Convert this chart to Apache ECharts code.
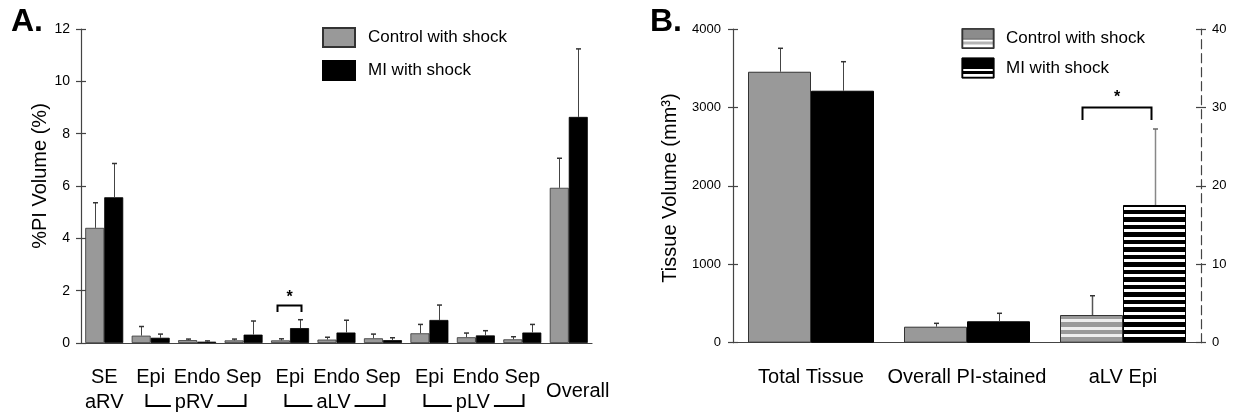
<!DOCTYPE html>
<html><head><meta charset="utf-8">
<script src="https://cdn.jsdelivr.net/npm/echarts@6/dist/echarts.min.js"></script>
<style>html,body{margin:0;padding:0;background:#fff}#c{width:1242px;height:417px}</style>
</head><body><div id="c"></div>
<script>
// ---------- Panel A data ----------
const categoriesA = ['SE aRV','pRV Epi','pRV Endo','pRV Sep','aLV Epi','aLV Endo','aLV Sep','pLV Epi','pLV Endo','pLV Sep','Overall'];
const tickLabelsA = ['SE\naRV','Epi','Endo','Sep','Epi','Endo','Sep','Epi','Endo','Sep','Overall'];
const regionLabelsA = ['pRV','aLV','pLV'];
const regionSpansA = [[1,3],[4,6],[7,9]];
const controlA    = [4.40, 0.28, 0.11, 0.10, 0.10, 0.13, 0.18, 0.37, 0.22, 0.14, 5.93];
const controlAErr = [0.96, 0.35, 0.04, 0.05, 0.06, 0.09, 0.16, 0.34, 0.16, 0.10, 1.13];
const miA         = [5.57, 0.20, 0.05, 0.32, 0.57, 0.40, 0.11, 0.88, 0.29, 0.40, 8.64];
const miAErr      = [1.29, 0.14, 0.03, 0.52, 0.32, 0.47, 0.09, 0.57, 0.18, 0.31, 2.60];
const yAxisA = {min: 0, max: 12, interval: 2};
const sigA = {cat: 4, low: 1.18, high: 1.45, star: 1.72};

// ---------- Panel B data ----------
const categoriesB = ['Total Tissue','Overall PI-stained','aLV Epi'];
const controlB         = [3455, 204, null];
const controlBErr      = [299, 43, null];
const miB              = [3213, 273, null];
const miBErr           = [370, 102, null];
const controlBRight    = [null, null, 3.53];
const controlBRightErr = [null, null, 2.46];
const miBRight         = [null, null, 17.56];
const miBRightErr      = [null, null, 9.69];
const yAxisBLeft  = {min: 0, max: 4000, interval: 1000};
const yAxisBRight = {min: 0, max: 40, interval: 10};
const sigB = {cat: 2, low: 28.4, high: 30.0, star: 31.3};

const seriesNames = ['Control with shock', 'MI with shock'];

// ---------- styles ----------
const FONT = '"Liberation Sans", Arial, sans-serif';
const GRAY = '#999999';
const BORDER = '#333333';
const BW_A = 19, BW_B = 63;

function stripe(rows){
  const total = rows.reduce((s, r) => s + r[1], 0);
  const cv = document.createElement('canvas'); cv.width = 4; cv.height = total;
  const ctx = cv.getContext('2d'); let y = 0;
  rows.forEach(([c, h]) => { ctx.fillStyle = c; ctx.fillRect(0, y, 4, h); y += h; });
  return cv;
}
const blackStripe = stripe([['#000',4],['#fff',3],['#000',5],['#fff',3]]);
const grayStripe  = stripe([['#9a9a9a',4],['#eeeeee',3],['#9a9a9a',5],['#eeeeee',3]]);

function errorSeries(xi, yi, vals, errs, side, halfW, color, capColor, lw){
  const data = [];
  vals.forEach((v, i) => { if (v != null) data.push([i, v, v + errs[i]]); });
  return {
    type: 'custom', xAxisIndex: xi, yAxisIndex: yi, silent: true, z: 5,
    encode: {x: 0, y: 1},
    data: data,
    renderItem: (params, api) => {
      const c = api.value(0), v = api.value(1), t = api.value(2);
      const p0 = api.coord([c, v]), p1 = api.coord([c, t]);
      const x = Math.round(p0[0] + side * halfW) + 0.5;
      return {type: 'group', children: [
        {type: 'line', shape: {x1: x, y1: p0[1], x2: x, y2: p1[1]}, style: {stroke: color, lineWidth: lw}},
        {type: 'line', shape: {x1: x - 2.5, y1: p1[1], x2: x + 2.5, y2: p1[1]}, style: {stroke: capColor, lineWidth: 1.5}}
      ]};
    }
  };
}

const axisLineStyle = {color: '#444', width: 1.2};
const plain = v => String(v);

const chart = echarts.init(document.getElementById('c'), null, {renderer: 'canvas'});
const option = {
  animation: false,
  backgroundColor: '#fff',
  textStyle: {fontFamily: FONT, color: '#000'},
  grid: [
    {left: 81, right: 650, top: 29, bottom: 73.3},
    {left: 733, right: 41, top: 29, bottom: 74.3}
  ],
  legend: {
    data: seriesNames, orient: 'vertical', left: 322, top: 27, padding: 0, icon: 'rect',
    itemWidth: 32, itemHeight: 19, itemGap: 12, selectedMode: false,
    textStyle: {fontSize: 17, fontFamily: FONT, color: '#000', padding: [0, 0, 0, 8]}
  },
  xAxis: [
    {type: 'category', gridIndex: 0, data: categoriesA,
     axisLine: {lineStyle: axisLineStyle}, axisTick: {show: false},
     axisLabel: {interval: 0, margin: 22, fontSize: 20, lineHeight: 25, color: '#000', fontFamily: FONT,
       formatter: (v, i) => i === 10 ? '{ov|' + tickLabelsA[i] + '}' : tickLabelsA[i],
       rich: {ov: {fontSize: 20, lineHeight: 52, padding: [0, 0, 0, 18], fontFamily: FONT, color: '#000'}}}},
    {type: 'category', gridIndex: 1, data: categoriesB,
     axisLine: {lineStyle: axisLineStyle}, axisTick: {show: false},
     axisLabel: {interval: 0, margin: 22, fontSize: 20, lineHeight: 25, color: '#000', fontFamily: FONT}},
    {type: 'category', gridIndex: 1, data: categoriesB, show: false}
  ],
  yAxis: [
    {type: 'value', gridIndex: 0, position: 'left', min: yAxisA.min, max: yAxisA.max, interval: yAxisA.interval,
     axisLine: {show: true, lineStyle: axisLineStyle}, axisTick: {show: true, length: 5, lineStyle: axisLineStyle},
     splitLine: {show: false}, axisLabel: {margin: 11, fontSize: 14, color: '#000', fontFamily: FONT, formatter: plain}},
    {type: 'value', gridIndex: 0, position: 'left', min: yAxisA.min, max: yAxisA.max, interval: yAxisA.interval,
     axisLine: {show: false}, axisTick: {show: true, inside: true, length: 5, lineStyle: axisLineStyle},
     splitLine: {show: false}, axisLabel: {show: false}},
    {type: 'value', gridIndex: 1, position: 'left', min: yAxisBLeft.min, max: yAxisBLeft.max, interval: yAxisBLeft.interval,
     axisLine: {show: true, lineStyle: axisLineStyle}, axisTick: {show: true, length: 5, lineStyle: axisLineStyle},
     splitLine: {show: false}, axisLabel: {margin: 12, fontSize: 13, color: '#000', fontFamily: FONT, formatter: plain}},
    {type: 'value', gridIndex: 1, position: 'left', min: yAxisBLeft.min, max: yAxisBLeft.max, interval: yAxisBLeft.interval,
     axisLine: {show: false}, axisTick: {show: true, inside: true, length: 5, lineStyle: axisLineStyle},
     splitLine: {show: false}, axisLabel: {show: false}},
    {type: 'value', gridIndex: 1, position: 'right', min: yAxisBRight.min, max: yAxisBRight.max, interval: yAxisBRight.interval,
     axisLine: {show: true, lineStyle: {color: '#444', width: 1.2, type: [9, 5]}},
     axisTick: {show: true, length: 5, lineStyle: axisLineStyle},
     splitLine: {show: false}, axisLabel: {margin: 11, fontSize: 13, color: '#000', fontFamily: FONT, formatter: plain}},
    {type: 'value', gridIndex: 1, position: 'right', min: yAxisBRight.min, max: yAxisBRight.max, interval: yAxisBRight.interval,
     axisLine: {show: false}, axisTick: {show: true, inside: true, length: 5, lineStyle: axisLineStyle},
     splitLine: {show: false}, axisLabel: {show: false}}
  ],
  series: [
    {name: seriesNames[0], type: 'bar', xAxisIndex: 0, yAxisIndex: 0, data: controlA, barWidth: BW_A, barGap: '0%',
     itemStyle: {color: GRAY, borderColor: BORDER, borderWidth: 0.8}},
    {name: seriesNames[1], type: 'bar', xAxisIndex: 0, yAxisIndex: 0, data: miA, barWidth: BW_A, barGap: '0%',
     itemStyle: {color: '#000', borderColor: '#000', borderWidth: 0.8}},
    errorSeries(0, 0, controlA, controlAErr, -1, BW_A / 2, '#444', '#333', 1),
    errorSeries(0, 0, miA, miAErr, 1, BW_A / 2, '#444', '#333', 1),

    {name: 'B ' + seriesNames[0], type: 'bar', xAxisIndex: 1, yAxisIndex: 2, data: controlB, barWidth: BW_B, barGap: '0%',
     itemStyle: {color: GRAY, borderColor: BORDER, borderWidth: 1}},
    {name: 'B ' + seriesNames[1], type: 'bar', xAxisIndex: 1, yAxisIndex: 2, data: miB, barWidth: BW_B, barGap: '0%',
     itemStyle: {color: '#000', borderColor: '#000', borderWidth: 1}},
    errorSeries(1, 2, controlB, controlBErr, -1, BW_B / 2, '#444', '#333', 1),
    errorSeries(1, 2, miB, miBErr, 1, BW_B / 2, '#444', '#333', 1),

    {name: 'B right ' + seriesNames[0], type: 'bar', xAxisIndex: 2, yAxisIndex: 4, data: controlBRight, barWidth: BW_B, barGap: '0%',
     itemStyle: {color: {image: grayStripe, repeat: 'repeat'}, borderColor: BORDER, borderWidth: 1}},
    {name: 'B right ' + seriesNames[1], type: 'bar', xAxisIndex: 2, yAxisIndex: 4, data: miBRight, barWidth: BW_B, barGap: '0%',
     itemStyle: {color: {image: blackStripe, repeat: 'repeat'}, borderColor: '#000', borderWidth: 1}},
    errorSeries(2, 4, controlBRight, controlBRightErr, -1, BW_B / 2, '#555', '#333', 1.5),
    errorSeries(2, 4, miBRight, miBRightErr, 1, BW_B / 2, '#888', '#666', 1.5)
  ]
};
chart.setOption(option);

// ---------- annotations positioned through the axes ----------
function xPix(xi, cat){ return chart.convertToPixel({xAxisIndex: xi}, cat); }
function yPix(yi, v){ return chart.convertToPixel({yAxisIndex: yi}, v); }
const g = [];
const textStyleBase = {fontFamily: FONT, fill: '#000'};
// Panel letters
g.push({type: 'text', x: 11, y: 22, style: Object.assign({}, textStyleBase, {text: 'A.', fontSize: 32, fontWeight: 'bold', verticalAlign: 'middle'})});
g.push({type: 'text', x: 650, y: 22, style: Object.assign({}, textStyleBase, {text: 'B.', fontSize: 32, fontWeight: 'bold', verticalAlign: 'middle'})});
// Y titles
g.push({type: 'text', x: 40, y: 176, rotation: Math.PI / 2, style: Object.assign({}, textStyleBase, {text: '%PI Volume (%)', fontSize: 20, align: 'center', verticalAlign: 'middle'})});
g.push({type: 'text', x: 670, y: 188, rotation: Math.PI / 2, style: Object.assign({}, textStyleBase, {text: 'Tissue Volume (mm³)', fontSize: 20, align: 'center', verticalAlign: 'middle'})});

// Region brackets under axis A
const axisYA = yPix(0, 0);
regionSpansA.forEach((span, k) => {
  const xl = Math.round(xPix(0, span[0]) - 5) + 0.5;
  const xr = Math.round(xPix(0, span[1]) + 1) + 0.5;
  const yt = axisYA + 51, yb = axisYA + 63;
  g.push({type: 'polyline', z: 10, shape: {points: [[xl, yt], [xl, yb], [xr, yb], [xr, yt]]}, style: {stroke: '#000', lineWidth: 2, fill: null}});
  const xm = xPix(0, (span[0] + span[1]) / 2) - 3;
  g.push({type: 'text', z: 11, x: xm, y: axisYA + 59.5, style: Object.assign({}, textStyleBase, {text: regionLabelsA[k], fontSize: 20, align: 'center', verticalAlign: 'middle', backgroundColor: '#fff', padding: [0, 4, 0, 4]})});
});
// Significance bracket A
(function(){
  const c = xPix(0, sigA.cat);
  const xl = Math.round(c - BW_A / 2 - 4) + 0.5, xr = Math.round(c + BW_A / 2 + 1.5) + 0.5;
  const yl = yPix(0, sigA.low), yh = Math.round(yPix(0, sigA.high)) + 0.5;
  g.push({type: 'polyline', z: 10, shape: {points: [[xl, yl], [xl, yh], [xr, yh], [xr, yl]]}, style: {stroke: '#000', lineWidth: 2, fill: null}});
  g.push({type: 'text', z: 10, x: (xl + xr) / 2, y: yPix(0, sigA.star), style: Object.assign({}, textStyleBase, {text: '*', fontSize: 16, fontWeight: 'bold', align: 'center', verticalAlign: 'middle'})});
})();
// Significance bracket B (right axis)
(function(){
  const c = xPix(2, sigB.cat);
  const xl = Math.round(c - BW_B / 2 - 10) + 0.5, xr = Math.round(c + BW_B / 2 - 4) + 0.5;
  const yl = chart.convertToPixel({yAxisIndex: 4}, sigB.low), yh = Math.round(chart.convertToPixel({yAxisIndex: 4}, sigB.high)) + 0.5;
  g.push({type: 'polyline', z: 10, shape: {points: [[xl, yl], [xl, yh], [xr, yh], [xr, yl]]}, style: {stroke: '#000', lineWidth: 2, fill: null}});
  g.push({type: 'text', z: 10, x: (xl + xr) / 2, y: chart.convertToPixel({yAxisIndex: 4}, sigB.star), style: Object.assign({}, textStyleBase, {text: '*', fontSize: 16, fontWeight: 'bold', align: 'center', verticalAlign: 'middle'})});
})();
// Legend B (solid top, striped bottom)
function legendIcon(x, y, solid, stripeColor, stroke){
  return {type: 'group', x: x, y: y, children: [
    {type: 'rect', shape: {x: 0, y: 0, width: 32, height: 20}, style: {fill: '#fff', stroke: stroke, lineWidth: 1}},
    {type: 'rect', shape: {x: 0, y: 0, width: 32, height: 10}, style: {fill: solid, stroke: null}},
    {type: 'rect', shape: {x: 0, y: 13, width: 32, height: 3}, style: {fill: stripeColor, stroke: null}},
    {type: 'line', shape: {x1: 0, y1: 10.5, x2: 32, y2: 10.5}, style: {stroke: stroke, lineWidth: 1}},
    {type: 'rect', shape: {x: 0.5, y: 0.5, width: 31, height: 19}, style: {fill: null, stroke: stroke, lineWidth: 1.5}}
  ]};
}
g.push(legendIcon(962, 28.5, '#8c8c8c', '#b5b5b5', '#333'));
g.push(legendIcon(962, 58, '#000', '#000', '#000'));
g.push({type: 'text', x: 1006, y: 38.5, style: Object.assign({}, textStyleBase, {text: seriesNames[0], fontSize: 17, verticalAlign: 'middle'})});
g.push({type: 'text', x: 1006, y: 68, style: Object.assign({}, textStyleBase, {text: seriesNames[1], fontSize: 17, verticalAlign: 'middle'})});

chart.setOption({graphic: g});
</script>
</body></html>
